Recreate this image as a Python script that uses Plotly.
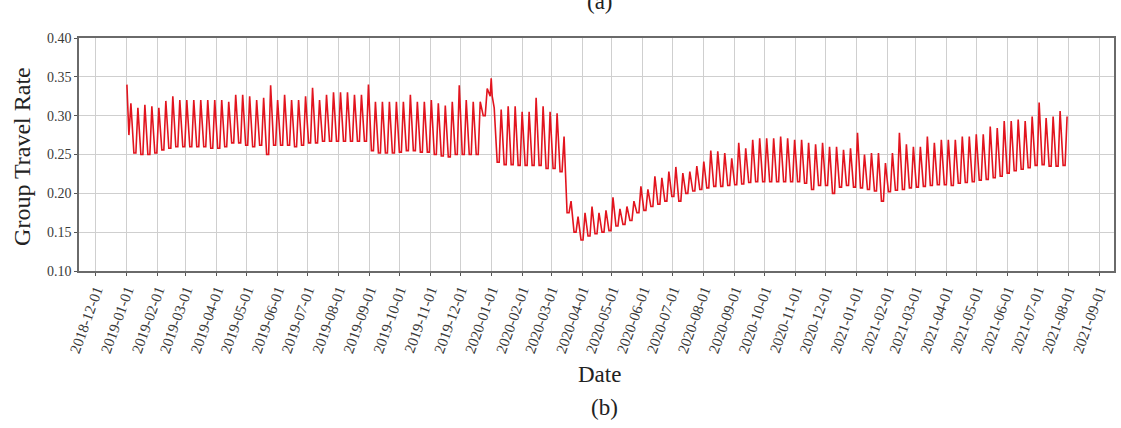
import pandas as pd
import plotly.graph_objects as go

# ---- data (weekly peaks / troughs) ----
week0_monday = "2018-12-31"
series_start = "2019-01-01"

weekly_high = [
    0.316, 0.310, 0.314, 0.312, 0.310, 0.319, 0.325, 0.320, 0.320, 0.320,
    0.320, 0.320, 0.320, 0.320, 0.318, 0.327, 0.327, 0.325, 0.320, 0.323,
    0.339, 0.320, 0.327, 0.320, 0.320, 0.325, 0.336, 0.320, 0.327, 0.330,
    0.330, 0.330, 0.327, 0.327, 0.340, 0.318, 0.318, 0.318, 0.318, 0.318,
    0.327, 0.318, 0.318, 0.320, 0.316, 0.313, 0.318, 0.339, 0.320, 0.318,
    0.318, 0.335, 0.310, 0.308, 0.312, 0.312, 0.305, 0.305, 0.323, 0.312,
    0.305, 0.303, 0.273, 0.190, 0.170, 0.175, 0.183, 0.175, 0.178, 0.195,
    0.180, 0.183, 0.190, 0.209, 0.205, 0.222, 0.220, 0.228, 0.234, 0.226,
    0.228, 0.235, 0.241, 0.255, 0.254, 0.252, 0.245, 0.265, 0.258, 0.269,
    0.271, 0.271, 0.271, 0.273, 0.271, 0.269, 0.269, 0.265, 0.263, 0.265,
    0.260, 0.260, 0.256, 0.258, 0.278, 0.250, 0.252, 0.252, 0.239, 0.252,
    0.278, 0.263, 0.260, 0.260, 0.273, 0.265, 0.269, 0.269, 0.269, 0.273,
    0.273, 0.276, 0.276, 0.286, 0.284, 0.293, 0.293, 0.295, 0.293, 0.299,
    0.317, 0.297, 0.299, 0.306, 0.299,
]
weekly_low = [
    0.275, 0.252, 0.250, 0.250, 0.252, 0.256, 0.258, 0.260, 0.260, 0.260,
    0.260, 0.260, 0.258, 0.258, 0.260, 0.265, 0.265, 0.262, 0.260, 0.262,
    0.250, 0.262, 0.262, 0.262, 0.260, 0.262, 0.265, 0.265, 0.267, 0.267,
    0.267, 0.267, 0.267, 0.267, 0.267, 0.255, 0.252, 0.252, 0.252, 0.253,
    0.255, 0.255, 0.253, 0.253, 0.250, 0.248, 0.247, 0.250, 0.250, 0.250,
    0.250, 0.300, 0.325, 0.240, 0.237, 0.237, 0.236, 0.236, 0.236, 0.236,
    0.232, 0.232, 0.228, 0.175, 0.150, 0.140, 0.145, 0.148, 0.150, 0.152,
    0.158, 0.160, 0.165, 0.175, 0.178, 0.183, 0.186, 0.190, 0.196, 0.190,
    0.200, 0.203, 0.205, 0.207, 0.209, 0.209, 0.210, 0.211, 0.212, 0.214,
    0.215, 0.215, 0.215, 0.215, 0.215, 0.215, 0.215, 0.213, 0.205, 0.210,
    0.210, 0.200, 0.208, 0.210, 0.208, 0.207, 0.205, 0.203, 0.190, 0.202,
    0.204, 0.205, 0.207, 0.208, 0.209, 0.210, 0.211, 0.211, 0.210, 0.213,
    0.214, 0.215, 0.217, 0.218, 0.220, 0.222, 0.226, 0.229, 0.231, 0.233,
    0.236, 0.237, 0.235, 0.235, 0.236,
]
holiday_dates = ["2019-01-01", "2020-01-01"]
holiday_values = [0.340, 0.348]

# ---- build the series (trough Tue/Thu, peak Sat) ----
points = {}
mondays = pd.date_range(week0_monday, periods=len(weekly_high), freq="7D")
for monday, lo, hi in zip(mondays, weekly_low, weekly_high):
    for offset, val in ((1, lo), (3, lo), (5, hi)):
        points[monday + pd.Timedelta(days=offset)] = val
for d, v in zip(holiday_dates, holiday_values):
    points[pd.Timestamp(d)] = v
start = pd.Timestamp(series_start)
xs = sorted(k for k in points if k >= start)
ys = [points[k] for k in xs]

fig = go.Figure()
fig.add_trace(go.Scatter(
    x=xs, y=ys, mode="lines",
    line=dict(color="rgb(226,20,30)", width=1.6),
    showlegend=False,
))

serif = "Liberation Serif, Times New Roman, serif"
fig.update_layout(
    width=1121, height=428,
    margin=dict(l=79, r=7, t=38, b=157, autoexpand=False),
    paper_bgcolor="white", plot_bgcolor="white",
    font=dict(family=serif, color="#333"),
)
fig.update_xaxes(
    automargin=False,
    range=["2018-11-14", "2021-09-16"],
    tick0="2018-12-01", dtick="M1", tickformat="%Y-%m-%d",
    tickangle=-70, tickfont=dict(size=15, color="#3a3a3a"),
    showgrid=True, gridcolor="#cfcfcf", gridwidth=1,
    showline=True, linecolor="#6a6a6a", linewidth=1.5, mirror=True,
    ticks="outside", ticklen=3, tickcolor="#555",
)
fig.update_yaxes(
    automargin=False,
    range=[0.10, 0.40], dtick=0.05, tickformat=".2f",
    tickfont=dict(size=14, color="#3a3a3a"),
    showgrid=True, gridcolor="#cfcfcf", gridwidth=1,
    showline=True, linecolor="#6a6a6a", linewidth=1.5, mirror=True,
    ticks="outside", ticklen=3, tickcolor="#555",
    zeroline=False,
)

fig.add_annotation(text="Group Travel Rate", textangle=-90, xref="paper", yref="paper",
                   x=-0.055, y=0.49, xanchor="center", yanchor="middle", showarrow=False,
                   font=dict(size=24, family=serif, color="#222"))
fig.add_annotation(text="Date", xref="paper", yref="paper", x=0.503, y=-0.446,
                   xanchor="center", yanchor="middle", showarrow=False,
                   font=dict(size=23, family=serif, color="#222"))
fig.add_annotation(text="(b)", xref="paper", yref="paper", x=0.508, y=-0.584,
                   xanchor="center", yanchor="middle", showarrow=False,
                   font=dict(size=23, family=serif, color="#222"))
fig.add_annotation(text="(a)", xref="paper", yref="paper", x=0.503, y=1.155,
                   xanchor="center", yanchor="middle", showarrow=False,
                   font=dict(size=23, family=serif, color="#222"))

fig.write_html(
    "out.html",
    config={"displayModeBar": False},
    post_script="document.body.style.margin='0';document.body.style.padding='0';",
)
